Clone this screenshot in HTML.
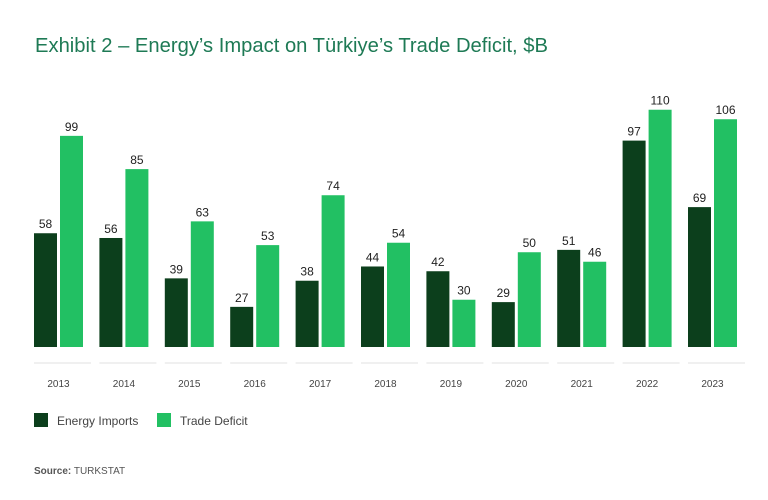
<!DOCTYPE html>
<html><head><meta charset="utf-8"><style>
body{margin:0;background:#fff;font-family:"Liberation Sans",sans-serif}
</style></head><body>
<svg id="chart" width="768" height="495" xmlns="http://www.w3.org/2000/svg">
<text x="35" y="52" font-size="20" fill="#1e7a55" textLength="513" lengthAdjust="spacingAndGlyphs">Exhibit 2 – Energy’s Impact on Türkiye’s Trade Deficit, $B</text>
<g id="bars"></g>
<g>
<rect x="34" y="413" width="14" height="14" fill="#0c3f1c"/>
<text x="57" y="425" font-size="12" fill="#444">Energy Imports</text>
<rect x="157" y="413" width="14" height="14" fill="#22c063"/>
<text x="180" y="425" font-size="12" fill="#444">Trade Deficit</text>
</g>
<text x="34" y="474" font-size="10" fill="#555"><tspan font-weight="bold">Source:</tspan> TURKSTAT</text>
</svg>
<script>
const years=["2013","2014","2015","2016","2017","2018","2019","2020","2021","2022","2023"];
const energyImports=[58,56,39,27,38,44,42,29,51,97,69];
const tradeDeficit=[99,85,63,53,74,54,30,50,46,110,106];
const yMin=10.1, pxPerUnit=2.375, base=347, x0=34, step=65.4, bw=23;
function y(v){return base-(v-yMin)*pxPerUnit;}
const g=document.getElementById('bars');
const NS="http://www.w3.org/2000/svg";
function mk(tag,attrs){const e=document.createElementNS(NS,tag);for(const k in attrs)e.setAttribute(k,attrs[k]);g.appendChild(e);return e;}
years.forEach((yr,i)=>{
  const gx=x0+i*step;
  [[energyImports[i],'#0c3f1c',gx,'energy'],[tradeDeficit[i],'#22c063',gx+26,'deficit']].forEach(([v,c,bx,n])=>{
    const r=mk('rect',{x:bx,y:y(v),width:bw,height:base-y(v),fill:c});
    
    
    const t=mk('text',{x:bx+bw/2,y:y(v)-5,'font-size':12,'text-anchor':'middle',fill:'#222'});
    
    
    t.textContent=v;
  });
  const l=mk('line',{x1:gx,x2:gx+57,y1:363,y2:363,stroke:'#e2e2e2','stroke-width':1});
  
  
  const t=mk('text',{x:gx+24.5,y:387,'font-size':10,'text-anchor':'middle',fill:'#444'});
  
  
  t.textContent=yr;
});
</script>
</body></html>
